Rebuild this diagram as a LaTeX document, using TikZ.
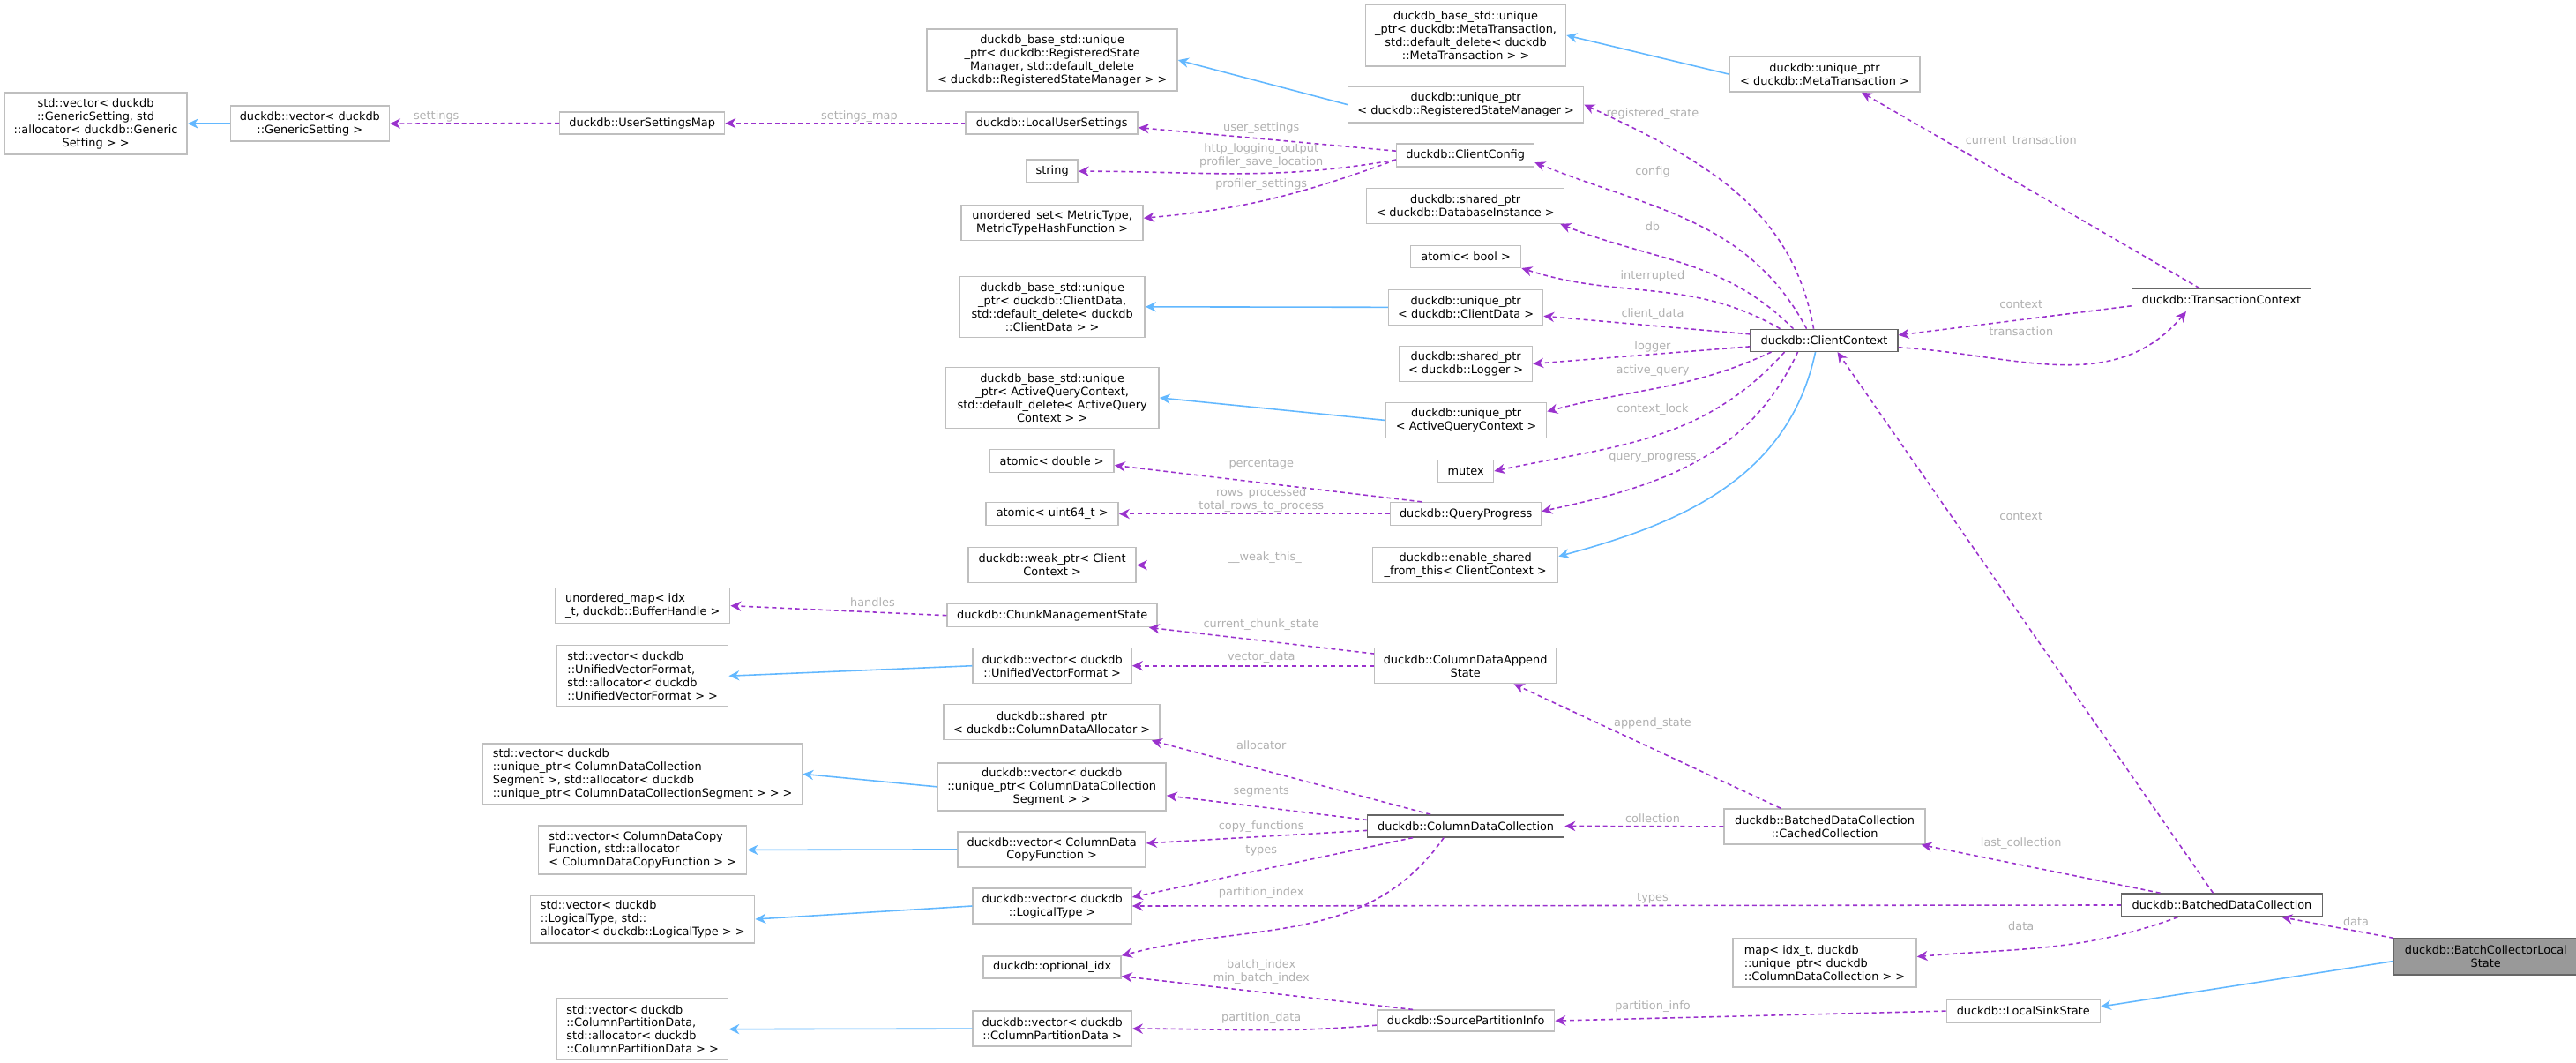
\documentclass[tikz,border=0pt]{standalone}
\usepackage{fontspec}
\setmainfont{DejaVu Sans}
\usetikzlibrary{arrows.meta}
\definecolor{pur}{HTML}{9A32CD}
\definecolor{blu}{HTML}{63B8FF}
\definecolor{bord}{HTML}{BFBFBF}
\definecolor{dbord}{HTML}{666666}
\definecolor{lblc}{HTML}{B0B0B0}
\newcommand\bx[7][]{\node[box,#1,minimum width={(#4-#2)*0.28453pt},minimum height={(#5-#3)*0.28453pt}] (#6) at ({(#2+#4)*0.005},{-(#3+#5)*0.005}) {#7};}
\newcommand\lb[4][]{\node[lbl,#1] (#2) at ({#3*0.01},{-#4*0.01}) {#2x};}
\newcommand\lbt[4]{\node[lbl] (#1) at ({#2*0.01},{-#3*0.01}) {#4};}
\begin{document}
\begin{tikzpicture}[
  font=\fontsize{3.67pt}{4.25pt}\selectfont,
  box/.style={draw=bord,line width=0.4pt,fill=white,inner sep=0pt,align=center},
  main/.style={draw=dbord},
  lbl/.style={text=lblc,inner sep=0pt,align=center},
  use/.style={pur,line width=0.45pt,dash pattern=on 1.4pt off 1.1pt,-{Stealth[length=3.4pt,width=3.2pt]}},
  inh/.style={blu,line width=0.45pt,-{Stealth[length=3.4pt,width=3.2pt]}}
]
\useasboundingbox (0,0) rectangle (29.21,-12.05);
% nodes
\bx{5}{105}{212}{175}{stdvecGS}{std::vector< duckdb\\::GenericSetting, std\\::allocator< duckdb::Generic\\Setting > >}
\bx{261}{120}{441}{160}{vecGS}{duckdb::vector< duckdb\\::GenericSetting >}
\bx{634}{127}{821}{152}{USM}{duckdb::UserSettingsMap}
\bx{1050}{33}{1334}{103}{baseRSM}{duckdb\_base\_std::unique\\\_ptr< duckdb::RegisteredState\\Manager, std::default\_delete\\< duckdb::RegisteredStateManager > >}
\bx{1547}{5}{1774}{75}{baseMT}{duckdb\_base\_std::unique\\\_ptr< duckdb::MetaTransaction,\\std::default\_delete< duckdb\\::MetaTransaction > >}
\bx{1527}{98}{1794}{139}{upRSM}{duckdb::unique\_ptr\\< duckdb::RegisteredStateManager >}
\bx{1094}{127}{1289}{152}{LUS}{duckdb::LocalUserSettings}
\bx{1582}{163}{1738}{189}{CC}{duckdb::ClientConfig}
\bx{1163}{181}{1221}{207}{string}{string}
\bx{1089}{232}{1295}{272}{uset}{unordered\_set< MetricType,\\MetricTypeHashFunction >}
\bx{1548}{213}{1772}{253}{spDB}{duckdb::shared\_ptr\\< duckdb::DatabaseInstance >}
\bx{1598}{278}{1723}{303}{abool}{atomic< bool >}
\bx{1087}{313}{1297}{382}{baseCD}{duckdb\_base\_std::unique\\\_ptr< duckdb::ClientData,\\std::default\_delete< duckdb\\::ClientData > >}
\bx{1573}{328}{1748}{368}{upCD}{duckdb::unique\_ptr\\< duckdb::ClientData >}
\bx{1585}{392}{1736}{432}{spLog}{duckdb::shared\_ptr\\< duckdb::Logger >}
\bx{1071}{416}{1313}{485}{baseAQC}{duckdb\_base\_std::unique\\\_ptr< ActiveQueryContext,\\std::default\_delete< ActiveQuery\\Context > >}
\bx{1570}{456}{1752}{496}{upAQC}{duckdb::unique\_ptr\\< ActiveQueryContext >}
\bx{1121}{509}{1262}{535}{adouble}{atomic< double >}
\bx{1629}{521}{1692}{546}{mutex}{mutex}
\bx{1575}{569}{1746}{595}{QP}{duckdb::QueryProgress}
\bx{1117}{569}{1267}{595}{au64}{atomic< uint64\_t >}
\bx{1959}{64}{2175}{104}{upMT}{duckdb::unique\_ptr\\< duckdb::MetaTransaction >}
\bx[main]{1983}{373}{2150}{398}{CCx}{duckdb::ClientContext}
\bx[main]{2415}{327}{2618}{352}{TC}{duckdb::TransactionContext}
\bx{1097}{620}{1287}{660}{weak}{duckdb::weak\_ptr< Client\\Context >}
\bx{1555}{620}{1765}{660}{esft}{duckdb::enable\_shared\\\_from\_this< ClientContext >}
\bx{1073}{684}{1311}{710}{CMS}{duckdb::ChunkManagementState}
\bx{1102}{734}{1282}{774}{vecUVF}{duckdb::vector< duckdb\\::UnifiedVectorFormat >}
\bx{1557}{734}{1763}{774}{CDAS}{duckdb::ColumnDataAppend\\State}
\bx{1069}{798}{1314}{838}{spCDA}{duckdb::shared\_ptr\\< duckdb::ColumnDataAllocator >}
\bx{1062}{864}{1321}{918}{vecSeg}{duckdb::vector< duckdb\\::unique\_ptr< ColumnDataCollection\\Segment > >}
\bx[main]{1549}{923}{1772}{948}{CDC}{duckdb::ColumnDataCollection}
\bx{1085}{942}{1298}{982}{vecCopy}{duckdb::vector< ColumnData\\CopyFunction >}
\bx{1102}{1006}{1282}{1046}{vecLT}{duckdb::vector< duckdb\\::LogicalType >}
\bx{1114}{1083}{1270}{1108}{optidx}{duckdb::optional\_idx}
\bx{1560}{1144}{1761}{1168}{SPI}{duckdb::SourcePartitionInfo}
\bx{1102}{1145}{1282}{1185}{vecCPD}{duckdb::vector< duckdb\\::ColumnPartitionData >}
\bx[align=left]{629}{666}{827}{706}{umapBH}{unordered\_map< idx\\\_t, duckdb::BufferHandle >}
\bx[align=left]{631}{731}{825}{800}{stdvecUVF}{std::vector< duckdb\\::UnifiedVectorFormat,\\ std::allocator< duckdb\\::UnifiedVectorFormat > >}
\bx[align=left]{547}{842}{909}{911}{stdvecSeg}{std::vector< duckdb\\::unique\_ptr< ColumnDataCollection\\Segment >, std::allocator< duckdb\\::unique\_ptr< ColumnDataCollectionSegment > > >}
\bx[align=left]{610}{935}{846}{990}{stdvecCopy}{std::vector< ColumnDataCopy\\Function, std::allocator\\< ColumnDataCopyFunction > >}
\bx[align=left]{601}{1014}{855}{1068}{stdvecLT}{std::vector< duckdb\\::LogicalType, std::\\allocator< duckdb::LogicalType > >}
\bx[align=left]{631}{1131}{825}{1200}{stdvecCPD}{std::vector< duckdb\\::ColumnPartitionData,\\ std::allocator< duckdb\\::ColumnPartitionData > >}
\bx{1953}{916}{2181}{956}{CachedColl}{duckdb::BatchedDataCollection\\::CachedCollection}
\bx[main]{2403}{1012}{2631}{1038}{BDC}{duckdb::BatchedDataCollection}
\bx[align=left]{1963}{1063}{2171}{1118}{mapIdx}{map< idx\_t, duckdb\\::unique\_ptr< duckdb\\::ColumnDataCollection > >}
\bx{2205}{1132}{2379}{1158}{LSS}{duckdb::LocalSinkState}
\bx[draw=dbord,fill={rgb,255:red,153;green,153;blue,153}]{2712}{1063}{2920}{1104}{BCLS}{duckdb::BatchCollectorLocal\\State}
% inheritance
\draw[inh] (vecGS.west) -- (stdvecGS.east);
\draw[inh] (upRSM.west) -- (baseRSM.east);
\draw[inh] (upMT.west) -- (baseMT.east);
\draw[inh] (upCD.west) -- (baseCD.east);
\draw[inh] (upAQC.west) -- (baseAQC.east);
\draw[inh] ([xshift=-0.1cm]CCx.south) to[out=258,in=15] ([yshift=0.1cm]esft.east);
\draw[inh] (vecUVF.west) -- (stdvecUVF.east);
\draw[inh] (vecSeg.west) -- (stdvecSeg.east);
\draw[inh] (vecCopy.west) -- (stdvecCopy.east);
\draw[inh] (vecLT.west) -- (stdvecLT.east);
\draw[inh] (vecCPD.west) -- (stdvecCPD.east);
\draw[inh] ([yshift=-0.05cm]BCLS.west) -- ([yshift=0.05cm]LSS.east);
% usage
\draw[use] (USM.west) -- (vecGS.east);
\draw[use] (LUS.west) -- (USM.east);
\draw[use] ([yshift=0.05cm]CC.west) -- ([yshift=-0.05cm]LUS.east);
\draw[use] ([yshift=-0.05cm]CC.west) to[out=190,in=0] (string.east);
\draw[use] ([yshift=-0.05cm]CC.west) to[out=200,in=5] ([yshift=0.05cm]uset.east);
\draw[use] ([xshift=-0.12cm]CCx.north) to[out=100,in=-25] (upRSM.east);
\draw[use] ([xshift=-0.2cm]CCx.north) to[out=118,in=-22] ([yshift=-0.08cm]CC.east);
\draw[use] ([xshift=-0.35cm]CCx.north) to[out=135,in=-22] ([xshift=-0.05cm]spDB.south east);
\draw[use] ([xshift=-0.5cm]CCx.north) to[out=150,in=-18] (abool.south east);
\draw[use] ([yshift=0.07cm]CCx.west) -- ([yshift=-0.1cm]upCD.east);
\draw[use] ([yshift=-0.07cm]CCx.west) -- (spLog.east);
\draw[use] ([xshift=-0.6cm]CCx.south) to[out=205,in=15] ([yshift=0.1cm]upAQC.east);
\draw[use] ([xshift=-0.45cm]CCx.south) to[out=228,in=12] (mutex.east);
\draw[use] ([xshift=-0.3cm]CCx.south) to[out=245,in=12] ([yshift=0.03cm]QP.east);
\draw[use] ([xshift=-0.5cm]QP.north) -- ([yshift=-0.05cm]adouble.east);
\draw[use] (QP.west) -- (au64.east);
\draw[use] ([yshift=-0.07cm]TC.west) -- ([yshift=0.06cm]CCx.east);
\draw[use] ([yshift=-0.08cm]CCx.east) to[out=-3,in=230] ([xshift=-0.4cm]TC.south);
\draw[use] ([xshift=-0.25cm]TC.north) -- ([xshift=0.42cm]upMT.south);
\draw[use] (esft.west) -- (weak.east);
\draw[use] (CMS.west) -- (umapBH.east);
\draw[use] ([yshift=-0.07cm]CDAS.north west) -- ([xshift=-0.1cm]CMS.south east);
\draw[use] (CDAS.west) -- (vecUVF.east);
\draw[use] ([xshift=-0.5cm]CachedColl.north) -- ([xshift=0.55cm]CDAS.south);
\draw[use] ([xshift=-0.4cm]CDC.north) -- ([xshift=-0.1cm]spCDA.south east);
\draw[use] ([yshift=0.07cm]CDC.west) -- ([yshift=-0.1cm]vecSeg.east);
\draw[use] ([yshift=-0.05cm]CDC.west) -- ([yshift=0.07cm]vecCopy.east);
\draw[use] ([xshift=-0.6cm]CDC.south) -- ([yshift=0.1cm]vecLT.east);
\draw[use] ([xshift=-0.25cm]CDC.south) to[out=235,in=15] (optidx.north east);
\draw[use] (CachedColl.west) -- (CDC.east);
\draw[use] ([xshift=-0.7cm]BDC.north) -- ([xshift=-0.05cm]CachedColl.south east);
\draw[use] (BDC.west) -- (vecLT.east);
\draw[use] ([xshift=-0.5cm]BDC.south) to[out=200,in=5] ([yshift=0.07cm]mapIdx.east);
\draw[use] ([xshift=-0.1cm]BDC.north) -- ([xshift=0.15cm]CCx.south);
\draw[use] ([xshift=-0.6cm]SPI.north) -- ([yshift=-0.1cm]optidx.east);
\draw[use] ([yshift=-0.05cm]SPI.west) to[out=185,in=0] (vecCPD.east);
\draw[use] (LSS.west) -- (SPI.east);
\draw[use] (BCLS.north west) -- ([xshift=0.68cm]BDC.south);
% labels
\lbt{l1}{495}{132}{settings}
\lbt{l2}{975}{132}{settings\_map}
\lbt{l3}{1431}{145}{user\_settings}
\lbt{l4}{1431}{177}{http\_logging\_output\\profiler\_save\_location}
\lbt{l5}{1431}{209}{profiler\_settings}
\lbt{l6}{1875}{129}{registered\_state}
\lbt{l7}{1875}{195}{config}
\lbt{l8}{1875}{257}{db}
\lbt{l9}{1875}{313}{interrupted}
\lbt{l10}{1875}{356}{client\_data}
\lbt{l11}{1875}{393}{logger}
\lbt{l12}{1875}{420}{active\_query}
\lbt{l13}{1875}{464}{context\_lock}
\lbt{l14}{1875}{520}{query\_progress}
\lbt{l15}{1431}{527}{percentage}
\lbt{l16}{1431}{567}{rows\_processed\\total\_rows\_to\_process}
\lbt{l17}{2293}{160}{current\_transaction}
\lbt{l18}{2293}{345}{context}
\lbt{l19}{2293}{376}{transaction}
\lbt{l20}{2293}{585}{context}
\lbt{l21}{1435}{632}{\_\_weak\_this\_}
\lbt{l22}{990}{683}{handles}
\lbt{l23}{1431}{709}{current\_chunk\_state}
\lbt{l24}{1431}{746}{vector\_data}
\lbt{l25}{1875}{821}{append\_state}
\lbt{l26}{1431}{845}{allocator}
\lbt{l27}{1431}{898}{segments}
\lbt{l28}{1431}{938}{copy\_functions}
\lbt{l29}{1431}{965}{types}
\lbt{l30}{1431}{1013}{partition\_index}
\lbt{l31}{1875}{1019}{types}
\lbt{l32}{1875}{928}{collection}
\lbt{l33}{2293}{957}{last\_collection}
\lbt{l34}{2293}{1050}{data}
\lbt{l35}{2673}{1045}{data}
\lbt{l36}{1431}{1102}{batch\_index\\min\_batch\_index}
\lbt{l37}{1431}{1155}{partition\_data}
\lbt{l38}{1875}{1142}{partition\_info}
\end{tikzpicture}
\end{document}
